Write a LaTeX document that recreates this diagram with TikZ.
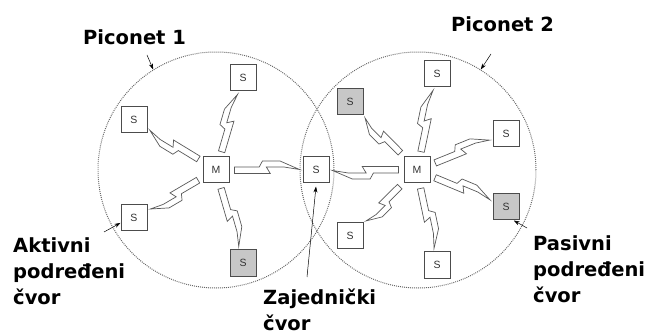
\documentclass[tikz,border=0pt]{standalone}
\usepackage{fontspec}
\setmainfont{DejaVu Sans}
\newfontfamily\boxfont{Liberation Sans}
\usetikzlibrary{calc,decorations.markings,arrows.meta}
\tikzset{
  sbox/.style={draw=black!70, line width=1pt, fill=white, minimum size=26pt,
    inner sep=0pt, font=\boxfont\fontsize{10.5}{12}\selectfont, text=black!80},
  pbox/.style={sbox, fill=black!22},
  piconet/.style={circle, draw=black!60, line width=1pt, dash pattern=on 0.9pt off 1.1pt,
    minimum size=236pt, inner sep=0pt},
  lbl/.style={font=\bfseries\fontsize{19.5}{26}\selectfont, inner sep=0pt, align=left},
  pointer/.style={-{Stealth[length=6pt,width=4pt]}, line width=0.5pt, black},
  boltline/.style={draw=black!65, fill=white, line width=0.7pt, line join=miter},
  bolt/.style={decoration={markings, mark=at position 5pt with {%
      \pgfmathsetmacro\bL{\pgfdecoratedpathlength-8}%
      \draw[boltline] (0pt,-3.5pt) -- ({0.55*\bL*1pt},-3.5pt) -- ({0.49*\bL*1pt},3pt)
        -- ({0.76*\bL*1pt},3pt) -- ({\bL*1pt},0.5pt) -- ({0.70*\bL*1pt},9pt)
        -- ({0.43*\bL*1pt},9pt) -- ({0.38*\bL*1pt},3pt) -- (0pt,3pt) -- cycle;}},
    decorate}
}
\begin{document}
\begin{tikzpicture}[x=1pt,y=-1pt]
\useasboundingbox (0,0) rectangle (646,334);
% piconet circles
\node[piconet] (c1) at (216,170) {};
\node[piconet] (c2) at (418,170) {};
% piconet 1 nodes
\node[sbox] (m1) at (216,170) {M};
\node[sbox] (s1a) at (243,78) {S};
\node[sbox] (s1b) at (134,120) {S};
\node[sbox] (s1c) at (134,218) {S};
\node[pbox] (s1d) at (243,263) {S};
\node[sbox] (ssh) at (316,170) {S};
% piconet 2 nodes
\node[sbox] (m2) at (417,170) {M};
\node[pbox] (s2a) at (350,102) {S};
\node[sbox] (s2b) at (437,74) {S};
\node[sbox] (s2c) at (506,134) {S};
\node[pbox] (s2d) at (506,207) {S};
\node[sbox] (s2e) at (437,265) {S};
\node[sbox] (s2f) at (350,236) {S};
% radio links
\foreach \t in {s1a,s1b,s1c,s1d,ssh} \path[bolt] (m1) -- (\t);
\foreach \t in {ssh,s2a,s2b,s2c,s2d,s2e,s2f} \path[bolt] (m2) -- (\t);
% labels (base anchor = baseline of the last line)
\node[lbl, anchor=base west] (lp1) at (83,45) {Piconet 1};
\node[lbl, anchor=base west] (lp2) at (451,32) {Piconet 2};
\node[lbl, anchor=base west] (lak) at (13,304) {Aktivni\\podređeni\\čvor};
\node[lbl, anchor=base west] (lza) at (263,330) {Zajednički\\čvor};
\node[lbl, anchor=base west] (lpa) at (533,302) {Pasivni\\podređeni\\čvor};
% pointers
\coordinate (a1) at (147,55);
\coordinate (a2) at (491,54);
\coordinate (a3) at (104,232);
\coordinate (a4) at (307,277);
\coordinate (a5) at (527,228);
\draw[pointer] (a1) -- (c1.122);
\draw[pointer] (a2) -- (c2.58);
\draw[pointer] (a3) -- (s1c.200);
\draw[pointer] (a4) -- ([yshift=-3pt]ssh.south);
\draw[pointer] (a5) -- (s2d.-60);
\end{tikzpicture}
\end{document}
